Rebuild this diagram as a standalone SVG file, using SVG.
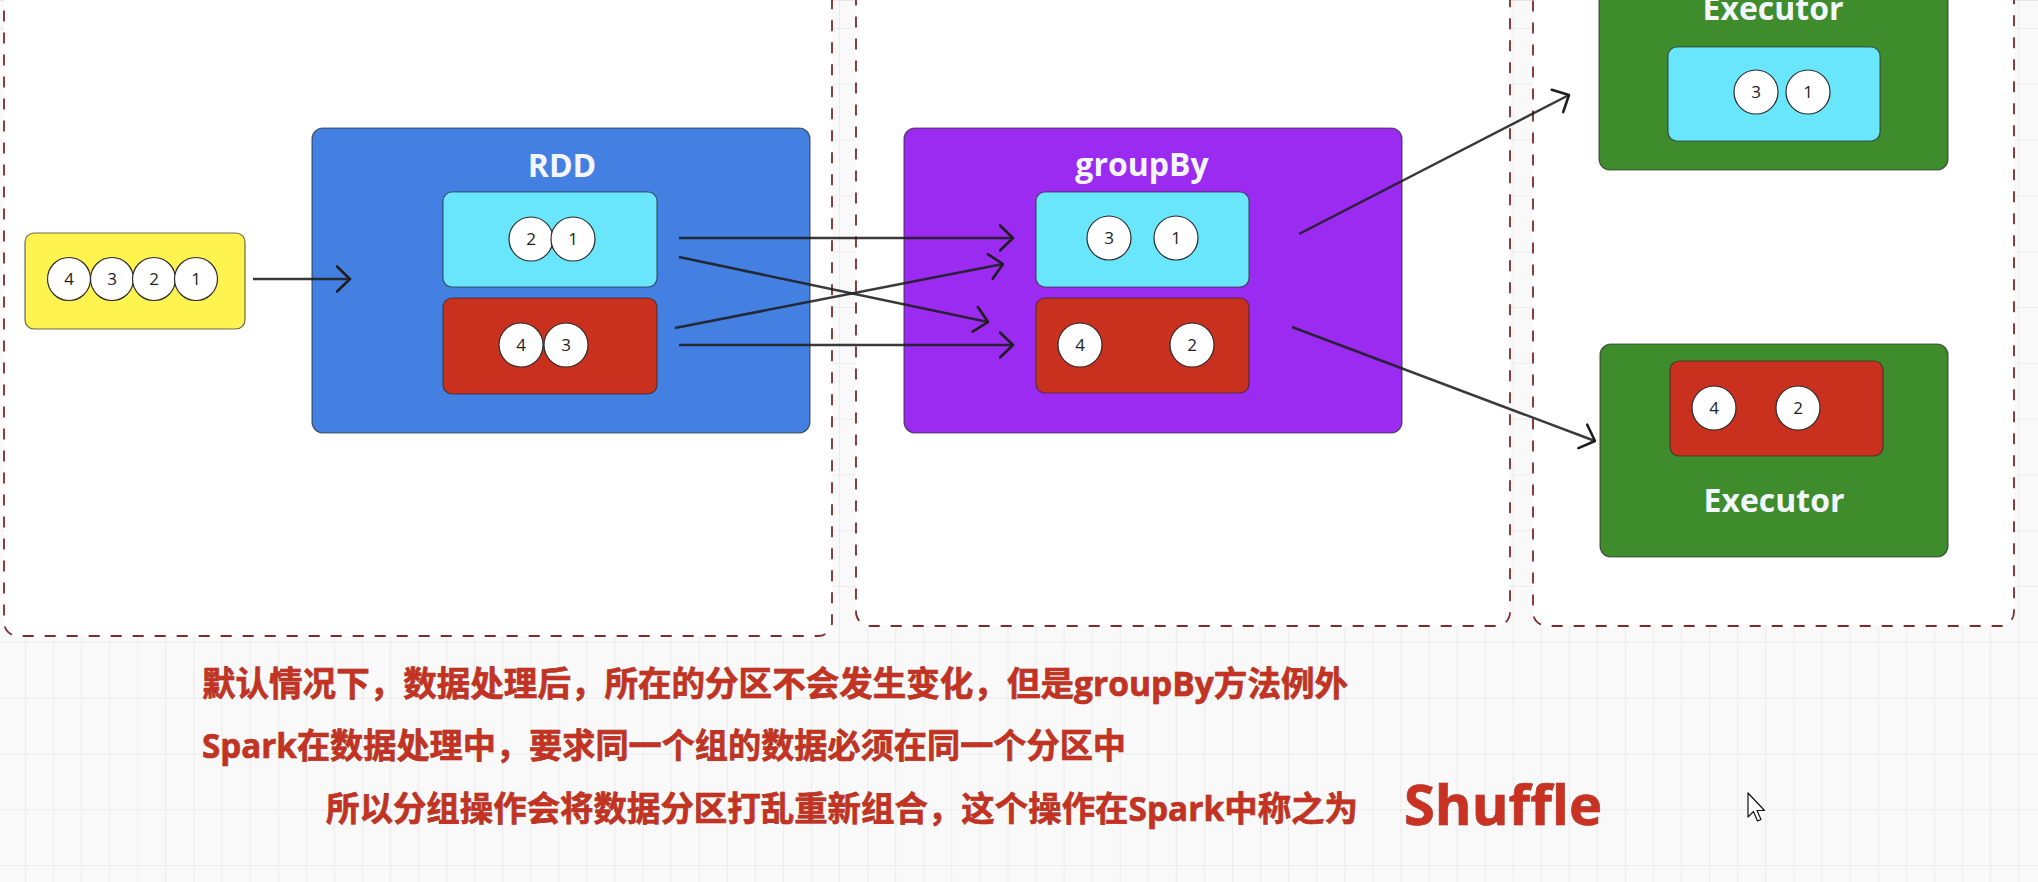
<svg xmlns="http://www.w3.org/2000/svg" width="2038" height="882" viewBox="0 0 2038 882">
  <defs>
    <pattern id="grid" x="25" y="28" width="28.07" height="55.8" patternUnits="userSpaceOnUse">
      <rect width="28.07" height="55.8" fill="#f9f9f9"/>
      <path d="M0.5,0 V55.8 M0,0.5 H28.07" stroke="#ececec" stroke-width="1" fill="none"/>
    </pattern>
    <marker id="arr" viewBox="0 0 16 28" refX="14.5" refY="14" markerWidth="16" markerHeight="28" markerUnits="userSpaceOnUse" orient="auto">
      <path d="M1.5,1.5 L14.5,14 L1.5,26.5" fill="none" stroke="#1e1e1e" stroke-width="2.6" stroke-linecap="round" stroke-linejoin="round"/>
    </marker>
    <style>
      .zone { fill: #ffffff; stroke: #7d2b2b; stroke-width: 1.8; stroke-dasharray: 11 11; }
      .box { stroke: #2b2b2b; stroke-opacity: 0.7; stroke-width: 1.2; }
      .yellow { fill: #fff34f; }
      .blue { fill: #4380e1; }
      .purple { fill: #9b2bf1; }
      .green { fill: #3e8c2b; }
      .cyan { fill: #69e6fb; }
      .red { fill: #ca301e; }
      .ball { fill: #ffffff; stroke: #2b2b2b; stroke-width: 1.2; }
      .num { font-family: "Open Sans", "Liberation Sans", sans-serif; font-size: 17px; fill: #222; text-anchor: middle; }
      .title { font-family: "Open Sans", "Liberation Sans", sans-serif; font-size: 32px; font-weight: 700; fill: #f4f6ff; text-anchor: middle; }
      .conn { stroke: #1e1e1e; stroke-opacity: 0.88; stroke-width: 2.5; fill: none; marker-end: url(#arr); }
      .note { font-family: "Open Sans", "Noto Sans CJK SC", sans-serif; font-size: 34px; font-weight: 700; fill: #c43222; stroke: #8a1d12; stroke-width: 0.6; paint-order: stroke; }
      .big { font-family: "Open Sans", "Noto Sans CJK SC", sans-serif; font-size: 56px; font-weight: 700; fill: #c93222; stroke: #8a1d12; stroke-width: 0.6; paint-order: stroke; }
    </style>
  </defs>

  <rect width="2038" height="882" fill="url(#grid)"/>
  <line x1="0" y1="0.5" x2="2038" y2="0.5" stroke="#e6e6e6" stroke-width="1"/>

  <g id="zones">
    <rect class="zone" x="4" y="-30" width="828" height="666" rx="14"/>
    <rect class="zone" x="856" y="-30" width="654" height="656" rx="14"/>
    <rect class="zone" x="1533" y="-30" width="481" height="656" rx="14"/>
  </g>

  <g id="source">
    <rect class="box yellow" x="25" y="233" width="220" height="96" rx="9"/>
    <circle class="ball" cx="69" cy="279" r="21.5"/><text class="num" x="69" y="285">4</text>
    <circle class="ball" cx="112" cy="279" r="21.5"/><text class="num" x="112" y="285">3</text>
    <circle class="ball" cx="154" cy="279" r="21.5"/><text class="num" x="154" y="285">2</text>
    <circle class="ball" cx="196" cy="279" r="21.5"/><text class="num" x="196" y="285">1</text>
  </g>

  <g id="rdd">
    <rect class="box blue" x="312" y="128" width="498" height="305" rx="11"/>
    <text class="title" x="562" y="177">RDD</text>
  </g>
  <g id="rdd-p1">
    <rect class="box cyan" x="443" y="192" width="214" height="95" rx="9"/>
    <circle class="ball" cx="531" cy="239" r="22"/><text class="num" x="531" y="245">2</text>
    <circle class="ball" cx="573" cy="239" r="22"/><text class="num" x="573" y="245">1</text>
  </g>
  <g id="rdd-p2">
    <rect class="box red" x="443" y="298" width="214" height="96" rx="9"/>
    <circle class="ball" cx="521" cy="345" r="22"/><text class="num" x="521" y="351">4</text>
    <circle class="ball" cx="566" cy="345" r="22"/><text class="num" x="566" y="351">3</text>
  </g>

  <g id="groupby">
    <rect class="box purple" x="904" y="128" width="498" height="305" rx="11"/>
    <text class="title" x="1142" y="176">groupBy</text>
  </g>
  <g id="gb-p1">
    <rect class="box cyan" x="1036" y="192" width="213" height="95" rx="9"/>
    <circle class="ball" cx="1109" cy="238" r="22"/><text class="num" x="1109" y="244">3</text>
    <circle class="ball" cx="1176" cy="238" r="22"/><text class="num" x="1176" y="244">1</text>
  </g>
  <g id="gb-p2">
    <rect class="box red" x="1036" y="298" width="213" height="95" rx="9"/>
    <circle class="ball" cx="1080" cy="345" r="22"/><text class="num" x="1080" y="351">4</text>
    <circle class="ball" cx="1192" cy="345" r="22"/><text class="num" x="1192" y="351">2</text>
  </g>

  <g id="executor-1">
    <rect class="box green" x="1599" y="-30" width="349" height="200" rx="11"/>
    <text class="title" x="1773" y="20">Executor</text>
    <rect class="box cyan" x="1668" y="47" width="212" height="94" rx="9"/>
    <circle class="ball" cx="1756" cy="92" r="22"/><text class="num" x="1756" y="98">3</text>
    <circle class="ball" cx="1808" cy="92" r="22"/><text class="num" x="1808" y="98">1</text>
  </g>

  <g id="executor-2">
    <rect class="box green" x="1600" y="344" width="348" height="213" rx="11"/>
    <rect class="box red" x="1670" y="361" width="213" height="95" rx="9"/>
    <circle class="ball" cx="1714" cy="408" r="22"/><text class="num" x="1714" y="414">4</text>
    <circle class="ball" cx="1798" cy="408" r="22"/><text class="num" x="1798" y="414">2</text>
    <text class="title" x="1774" y="512">Executor</text>
  </g>

  <g id="connectors">
    <line class="conn" x1="253" y1="279" x2="350" y2="279"/>
    <line class="conn" x1="679" y1="238" x2="1013" y2="238"/>
    <line class="conn" x1="679" y1="257" x2="988" y2="322"/>
    <line class="conn" x1="675" y1="328" x2="1003" y2="264"/>
    <line class="conn" x1="679" y1="345" x2="1013" y2="345"/>
    <line class="conn" x1="1299" y1="234" x2="1569" y2="95"/>
    <line class="conn" x1="1292" y1="327" x2="1595" y2="441"/>
  </g>

  <g id="notes">
    <text class="note" x="202" y="696" textLength="1146" lengthAdjust="spacingAndGlyphs">默认情况下，数据处理后，所在的分区不会发生变化，但是groupBy方法例外</text>
    <text class="note" x="202" y="758" textLength="924" lengthAdjust="spacingAndGlyphs">Spark在数据处理中，要求同一个组的数据必须在同一个分区中</text>
    <text class="note" x="326" y="821" textLength="1032" lengthAdjust="spacingAndGlyphs">所以分组操作会将数据分区打乱重新组合，这个操作在Spark中称之为</text>
    <text class="big" x="1404" y="825">Shuffle</text>
  </g>

  <g id="cursor">
    <path d="M1748,793 L1748,817 L1753.5,811.5 L1757.5,821 L1761,819.5 L1757,810.5 L1764.5,810.5 Z" fill="#ffffff" stroke="#111" stroke-width="1.2" stroke-linejoin="round"/>
  </g>
</svg>
